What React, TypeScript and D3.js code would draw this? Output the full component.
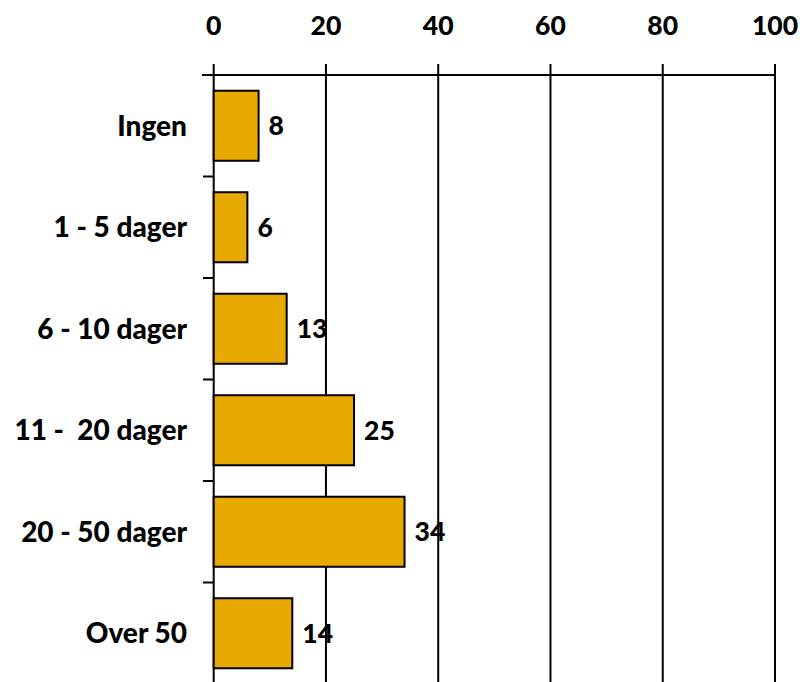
import React from "react";
import * as d3 from "d3";

const categories = ["Ingen", "1 - 5 dager", "6 - 10 dager", "11 -  20 dager", "20 - 50 dager", "Over 50"];
const values = [8, 6, 13, 25, 34, 14];
const xTicks = [0, 20, 40, 60, 80, 100];

const W = 804;
const H = 682;
const FONT = "Lato, 'Open Sans', sans-serif";

export default function App() {
  const x = d3.scaleLinear().domain([0, 100]).range([213.7, 775]);
  const y = d3.scaleBand<string>().domain(categories).range([75, 684]).paddingInner(0.31).paddingOuter(0.155);
  const step = y.step();
  const boundaries = d3.range(categories.length + 1).map((i) => 75 + i * step);

  return (
    <svg width={W} height={H} style={{ position: "absolute", left: 0, top: 0, background: "#fff" }}>
      {xTicks.map((t) => (
        <line key={"g" + t} x1={x(t)} x2={x(t)} y1={64} y2={H} stroke="#000" strokeWidth={2} />
      ))}
      <line x1={202} x2={x(100)} y1={75} y2={75} stroke="#000" strokeWidth={2} />
      {boundaries.map((b, i) => (
        <line key={"t" + i} x1={203} x2={x(0)} y1={b} y2={b} stroke="#000" strokeWidth={2} />
      ))}
      {xTicks.map((t) => (
        <text key={"l" + t} x={x(t)} y={35} textAnchor="middle" fontFamily={FONT} fontWeight={900} fontSize={26.5} fill="#000">
          {t}
        </text>
      ))}
      {categories.map((c, i) => (
        <rect
          key={"b" + c}
          x={x(0)}
          y={y(c)!}
          width={x(values[i]) - x(0)}
          height={y.bandwidth()}
          fill="#E8A900"
          stroke="#000"
          strokeWidth={2}
        />
      ))}
      {categories.map((c, i) => (
        <text
          key={"v" + c}
          x={x(values[i]) + 10}
          y={y(c)! + y.bandwidth() / 2}
          dy="0.36em"
          fontFamily={FONT}
          fontWeight={900}
          fontSize={26.5}
          fill="#000"
        >
          {values[i]}
        </text>
      ))}
      {categories.map((c) => (
        <text
          key={"c" + c}
          x={187}
          y={y(c)! + y.bandwidth() / 2}
          dy="0.36em"
          textAnchor="end"
          fontFamily={FONT}
          fontWeight={900}
          fontSize={28}
          fill="#000"
          style={{ whiteSpace: "pre" }}
        >
          {c}
        </text>
      ))}
    </svg>
  );
}
